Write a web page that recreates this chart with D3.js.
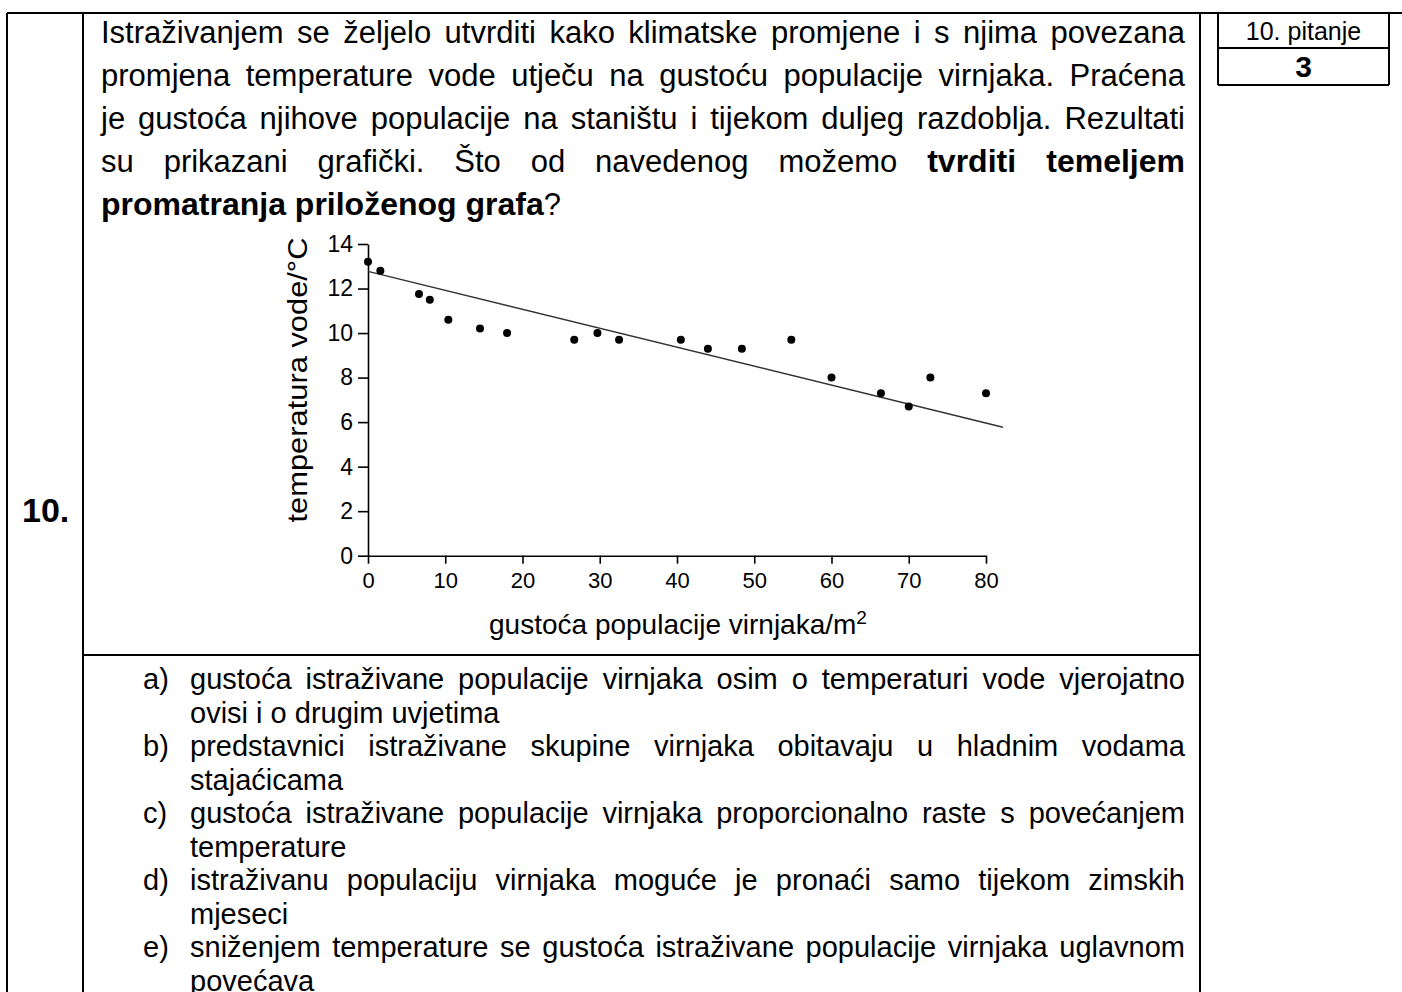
<!DOCTYPE html>
<html>
<head>
<meta charset="utf-8">
<script src="https://cdn.jsdelivr.net/npm/d3@7"></script>
<style>
  body { margin: 0; background: #fff; }
  #page { position: relative; width: 1402px; height: 992px; overflow: hidden;
          font-family: "Liberation Sans", Arial, sans-serif; color: #000; }
  #page svg { position: absolute; left: 0; top: 0; }
  .blk { position: absolute; }
  .jl { text-align: justify; text-align-last: justify; }
  .ll { text-align: left; }
  #question { left: 101px; top: 11px; width: 1084px; font-size: 31px; line-height: 43px; }
  #question b { font-size: 32px; }
  #answers { left: 190px; top: 663px; width: 995px; font-size: 29px; line-height: 33.5px; }
  .lab { position: absolute; left: -47px; }
  #qnum { left: 22px; top: 490px; font-size: 34px; font-weight: bold; line-height: 40px; }
  #boxTop { left: 1218px; top: 14px; width: 171px; text-align: center; font-size: 25px; line-height: 34px; }
  #boxPts { left: 1218px; top: 48px; width: 171px; text-align: center; font-size: 30px; font-weight: bold; line-height: 37px; }
</style>
</head>
<body>
<div id="page">
  <svg id="chart" width="1402" height="992"></svg>
  <div id="question" class="blk"></div>
  <div id="answers" class="blk"></div>
  <div id="qnum" class="blk">10.</div>
  <div id="boxTop" class="blk">10. pitanje</div>
  <div id="boxPts" class="blk">3</div>
</div>
<script>
// tekst pitanja, redak po redak
const questionLines = [
  "Istraživanjem se željelo utvrditi kako klimatske promjene i s njima povezana",
  "promjena temperature vode utječu na gustoću populacije virnjaka. Praćena",
  "je gustoća njihove populacije na staništu i tijekom duljeg razdoblja. Rezultati",
  "su prikazani grafički. Što od navedenog možemo <b>tvrditi temeljem</b>",
  "<b>promatranja priloženog grafa</b>?"
];

// ponuđeni odgovori (dva retka svaki)
const answerLabels = ["a)", "b)", "c)", "d)", "e)"];
const answerLines = [
  ["gustoća istraživane populacije virnjaka osim o temperaturi vode vjerojatno", "ovisi i o drugim uvjetima"],
  ["predstavnici istraživane skupine virnjaka obitavaju u hladnim vodama", "stajaćicama"],
  ["gustoća istraživane populacije virnjaka proporcionalno raste s povećanjem", "temperature"],
  ["istraživanu populaciju virnjaka moguće je pronaći samo tijekom zimskih", "mjeseci"],
  ["sniženjem temperature se gustoća istraživane populacije virnjaka uglavnom", "povećava"]
];

// podaci grafa
const density = [0, 1.6, 6.6, 8.0, 10.4, 14.5, 18.0, 26.7, 29.7, 32.5, 40.5, 44.0, 48.4, 54.8, 60, 66.4, 70, 72.8, 80];
const temperature = [13.2, 12.8, 11.75, 11.5, 10.6, 10.2, 10.0, 9.7, 10.0, 9.7, 9.7, 9.3, 9.3, 9.7, 8.0, 7.3, 6.7, 8.0, 7.3];
const trendX = [0, 82.2];
const trendY = [12.77, 5.77];
const xTicks = [0, 10, 20, 30, 40, 50, 60, 70, 80];
const yTicks = [0, 2, 4, 6, 8, 10, 12, 14];

// tekst pitanja
const q = d3.select("#question");
questionLines.forEach((t, i) => {
  q.append("div").attr("class", i < questionLines.length - 1 ? "jl" : "ll").html(t);
});

// odgovori
const ans = d3.select("#answers");
answerLines.forEach((pair, i) => {
  const first = ans.append("div").attr("class", "jl").style("position", "relative");
  first.append("span").attr("class", "lab").text(answerLabels[i]);
  first.append("span").text(pair[0]);
  ans.append("div").attr("class", "ll").text(pair[1]);
});

const svg = d3.select("#chart");

// okvir tablice
const frame = svg.append("g").attr("stroke", "#000").attr("stroke-width", 2);
[[7, 13, 1402, 13], [7, 13, 7, 992], [83, 13, 83, 992], [1200, 13, 1200, 992],
 [83, 655, 1200, 655], [1218, 13, 1218, 85], [1389, 13, 1389, 85],
 [1218, 48, 1389, 48], [1218, 85, 1389, 85]].forEach(l => {
  frame.append("line").attr("x1", l[0]).attr("y1", l[1]).attr("x2", l[2]).attr("y2", l[3]);
});

// skale
const x = d3.scaleLinear().domain([0, 80]).range([368, 986]);
const y = d3.scaleLinear().domain([0, 14]).range([555.7, 244]);

const g = svg.append("g");

// os x
const gx = g.append("g")
  .attr("transform", `translate(0,${y(0)})`)
  .call(d3.axisBottom(x).tickValues(xTicks).tickSize(8).tickSizeOuter(0).tickPadding(9));

// os y
const gy = g.append("g")
  .attr("transform", `translate(${x(0)},0)`)
  .call(d3.axisLeft(y).tickValues(yTicks).tickSize(10).tickSizeOuter(0).tickPadding(5));

[gx, gy].forEach(a => {
  a.attr("font-family", "Liberation Sans, Arial, sans-serif");
  a.selectAll("path, line").attr("stroke", "#000").attr("stroke-width", 1.6);
  a.selectAll("text").attr("fill", "#000");
});
gx.attr("font-size", 22);
gy.attr("font-size", 23);

// linija trenda
g.append("line")
  .attr("x1", x(trendX[0])).attr("y1", y(trendY[0]))
  .attr("x2", x(trendX[1])).attr("y2", y(trendY[1]))
  .attr("stroke", "#333").attr("stroke-width", 1.5);

// točke
g.selectAll("circle.pt")
  .data(density.map((d, i) => [d, temperature[i]]))
  .join("circle")
  .attr("class", "pt")
  .attr("cx", d => x(d[0]))
  .attr("cy", d => y(d[1]))
  .attr("r", 4)
  .attr("fill", "#000");

// naslovi osi
g.append("text")
  .attr("transform", "translate(307,380) rotate(-90)")
  .attr("text-anchor", "middle")
  .attr("font-family", "Liberation Sans, Arial, sans-serif")
  .attr("font-size", 28)
  .attr("textLength", 285)
  .attr("lengthAdjust", "spacingAndGlyphs")
  .text("temperatura vode/°C");

const xt = g.append("text")
  .attr("x", 678).attr("y", 634)
  .attr("text-anchor", "middle")
  .attr("font-family", "Liberation Sans, Arial, sans-serif")
  .attr("font-size", 28);
xt.append("tspan").text("gustoća populacije virnjaka/m");
xt.append("tspan").attr("font-size", 19).attr("dy", -10).text("2");
</script>
</body>
</html>
